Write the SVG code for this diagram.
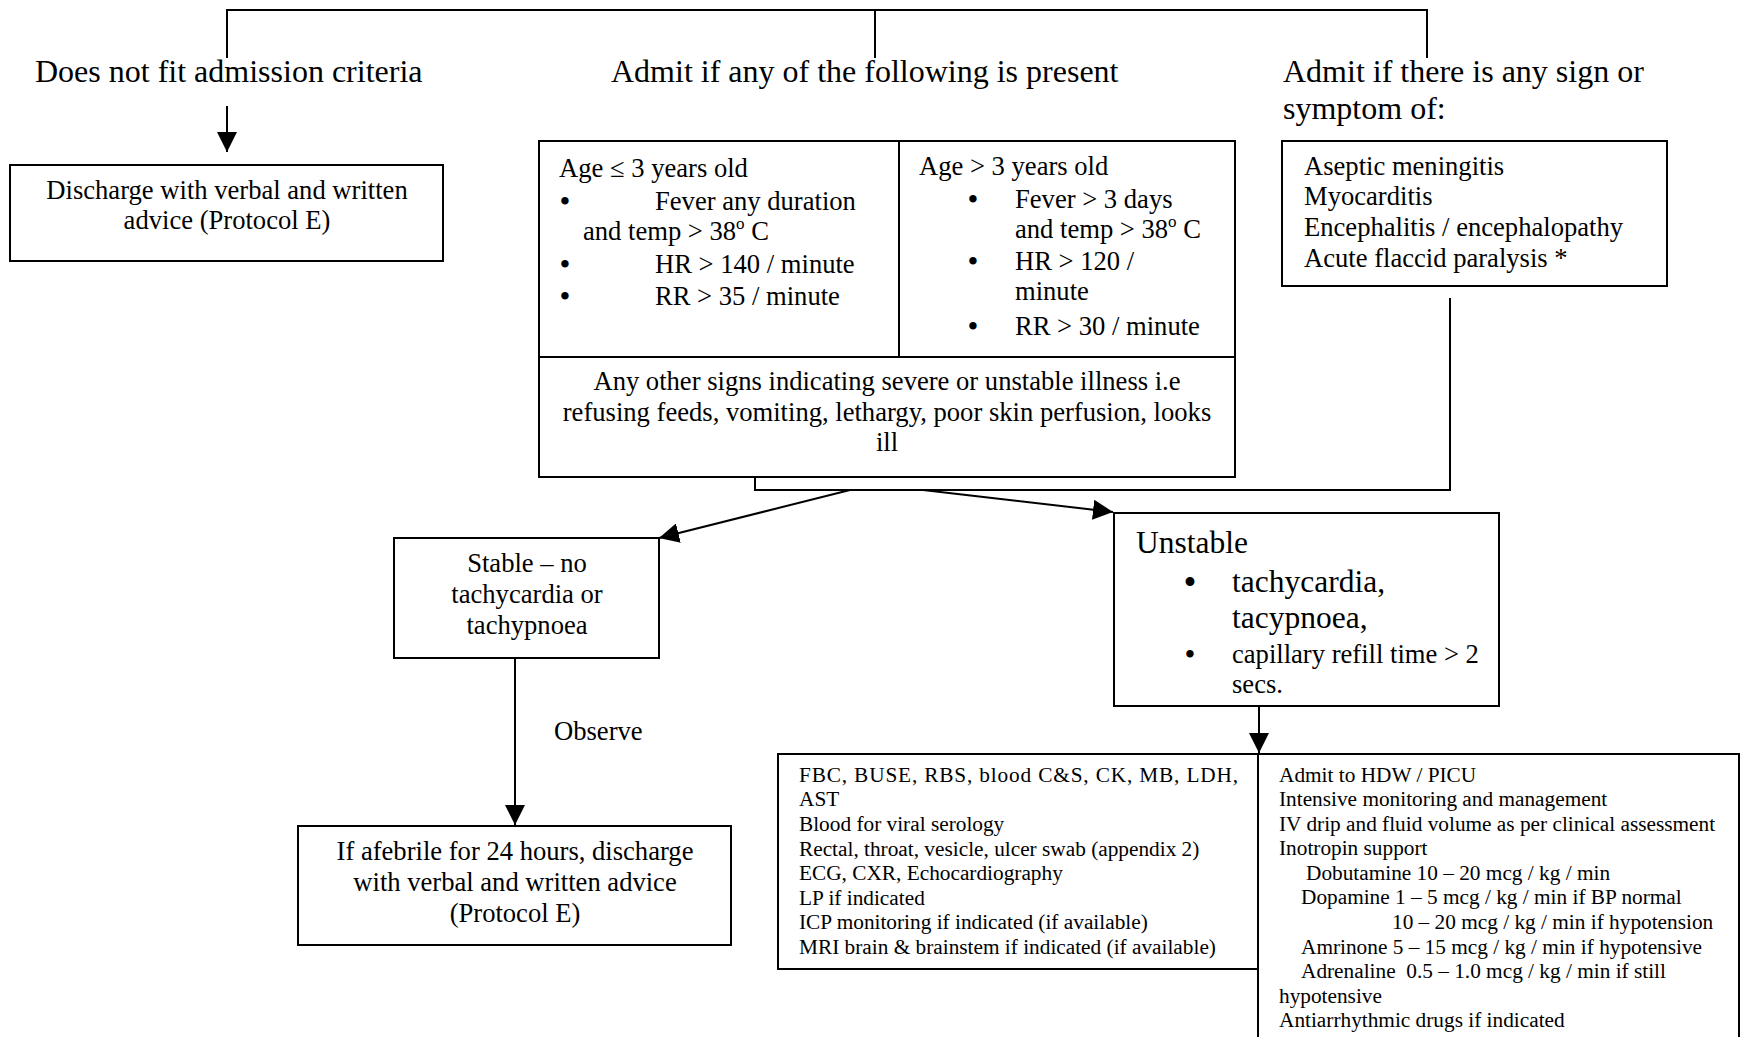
<svg xmlns="http://www.w3.org/2000/svg" width="1745" height="1037" viewBox="0 0 1745 1037">
<style>
.box{fill:#fff;stroke:#000;stroke-width:2}
.ln{fill:none;stroke:#000;stroke-width:2}
text{font-family:'Liberation Serif','Times New Roman',serif;fill:#000}
.h{font-size:32px}
.b{font-size:26.6px}
.s{font-size:21.3px}
.l{font-size:31.5px}
.c{text-anchor:middle}
.bu{font-size:31px;text-anchor:middle}
.bu2{font-size:37px;text-anchor:middle}
.pre{white-space:pre}
</style>
<defs>
<marker id="ah" viewBox="0 0 20 20" refX="20" refY="10" markerWidth="20" markerHeight="20" markerUnits="userSpaceOnUse" orient="auto">
<path d="M0,0 L20,10 L0,20 z" fill="#000"/>
</marker>
</defs>
<rect width="1745" height="1037" fill="#fff"/>

<g id="connectors">
<path class="ln" d="M227,58 V10 H1427 V58"/>
<path class="ln" d="M875,10 V58"/>
<path class="ln" d="M227,106 V152" marker-end="url(#ah)"/>
<path class="ln" d="M1450,298 V490 H755 V465"/>
<path class="ln" d="M850,490 L659,538" marker-end="url(#ah)"/>
<path class="ln" d="M923,490 L1113,512" marker-end="url(#ah)"/>
<path class="ln" d="M515,658 V825" marker-end="url(#ah)"/>
<path class="ln" d="M1259,706 V753" marker-end="url(#ah)"/>
<text class="b" x="554" y="740">Observe</text>
</g>

<g id="hdr-nofit">
<text class="h" x="35" y="82">Does not fit admission criteria</text>
</g>
<g id="hdr-admit">
<text class="h" x="611" y="82">Admit if any of the following is present</text>
</g>
<g id="hdr-sign">
<text class="h" x="1283" y="82">Admit if there is any sign or</text>
<text class="h" x="1283" y="119">symptom of:</text>
</g>

<g id="discharge">
<rect class="box" x="10" y="165" width="433" height="96"/>
<text class="b c" x="227" y="199">Discharge with verbal and written</text>
<text class="b c" x="227" y="229">advice (Protocol E)</text>
</g>

<g id="criteria">
<rect class="box" x="539" y="141" width="696" height="336"/>
<path class="ln" d="M899,141 V357 M539,357 H1235"/>
<text class="b" x="559" y="177">Age ≤ 3 years old</text>
<text class="bu" x="565" y="212">•</text>
<text class="b" x="655" y="210">Fever any duration</text>
<text class="b" x="583" y="240">and temp &gt; 38<tspan font-size="17" dy="-11">o</tspan><tspan dy="11"> C</tspan></text>
<text class="bu" x="565" y="275">•</text>
<text class="b" x="655" y="273">HR &gt; 140 / minute</text>
<text class="bu" x="565" y="307">•</text>
<text class="b" x="655" y="305">RR &gt; 35 / minute</text>
<text class="b" x="919" y="175">Age &gt; 3 years old</text>
<text class="bu" x="973" y="210">•</text>
<text class="b" x="1015" y="208">Fever &gt; 3 days</text>
<text class="b" x="1015" y="238">and temp &gt; 38<tspan font-size="17" dy="-11">o</tspan><tspan dy="11"> C</tspan></text>
<text class="bu" x="973" y="272">•</text>
<text class="b" x="1015" y="270">HR &gt; 120 /</text>
<text class="b" x="1015" y="300">minute</text>
<text class="bu" x="973" y="337">•</text>
<text class="b" x="1015" y="335">RR &gt; 30 / minute</text>
<text class="b c" x="887" y="390">Any other signs indicating severe or unstable illness i.e</text>
<text class="b c" x="887" y="421">refusing feeds, vomiting, lethargy, poor skin perfusion, looks</text>
<text class="b c" x="887" y="451">ill</text>
</g>

<g id="signs">
<rect class="box" x="1282" y="141" width="385" height="145"/>
<text class="b" x="1304" y="175">Aseptic meningitis</text>
<text class="b" x="1304" y="205">Myocarditis</text>
<text class="b" x="1304" y="236">Encephalitis / encephalopathy</text>
<text class="b" x="1304" y="267">Acute flaccid paralysis *</text>
</g>

<g id="stable">
<rect class="box" x="394" y="538" width="265" height="120"/>
<text class="b c" x="527" y="572">Stable – no</text>
<text class="b c" x="527" y="603">tachycardia or</text>
<text class="b c" x="527" y="634">tachypnoea</text>
</g>

<g id="afebrile">
<rect class="box" x="298" y="826" width="433" height="119"/>
<text class="b c" x="515" y="860">If afebrile for 24 hours, discharge</text>
<text class="b c" x="515" y="891">with verbal and written advice</text>
<text class="b c" x="515" y="922">(Protocol E)</text>
</g>

<g id="unstable">
<rect class="box" x="1114" y="513" width="385" height="193"/>
<text class="l" x="1136" y="553">Unstable</text>
<text class="bu2" x="1190" y="595">•</text>
<text class="l" x="1232" y="592">tachycardia,</text>
<text class="l" x="1232" y="628">tacypnoea,</text>
<text class="bu" x="1190" y="665">•</text>
<text class="b" x="1232" y="663">capillary refill time &gt; 2</text>
<text class="b" x="1232" y="693">secs.</text>
</g>

<g id="investigations">
<rect class="box" x="778" y="754" width="480" height="215"/>
<text class="s" x="799" y="782" textLength="439" lengthAdjust="spacing">FBC, BUSE, RBS, blood C&amp;S, CK, MB, LDH,</text>
<text class="s" x="799" y="806">AST</text>
<text class="s" x="799" y="831">Blood for viral serology</text>
<text class="s" x="799" y="856">Rectal, throat, vesicle, ulcer swab (appendix 2)</text>
<text class="s" x="799" y="880">ECG, CXR, Echocardiography</text>
<text class="s" x="799" y="905">LP if indicated</text>
<text class="s" x="799" y="929">ICP monitoring if indicated (if available)</text>
<text class="s" x="799" y="954">MRI brain &amp; brainstem if indicated (if available)</text>
</g>

<g id="management">
<rect class="box" x="1258" y="754" width="481" height="310"/>
<text class="s" x="1279" y="782">Admit to HDW / PICU</text>
<text class="s" x="1279" y="806">Intensive monitoring and management</text>
<text class="s" x="1279" y="831">IV drip and fluid volume as per clinical assessment</text>
<text class="s" x="1279" y="855">Inotropin support</text>
<text class="s" x="1306" y="880">Dobutamine 10 – 20 mcg / kg / min</text>
<text class="s" x="1301" y="904">Dopamine 1 – 5 mcg / kg / min if BP normal</text>
<text class="s" x="1392" y="929">10 – 20 mcg / kg / min if hypotension</text>
<text class="s" x="1301" y="954">Amrinone 5 – 15 mcg / kg / min if hypotensive</text>
<text class="s pre" x="1301" y="978">Adrenaline  0.5 – 1.0 mcg / kg / min if still</text>
<text class="s" x="1279" y="1003">hypotensive</text>
<text class="s" x="1279" y="1027">Antiarrhythmic drugs if indicated</text>
</g>
</svg>
